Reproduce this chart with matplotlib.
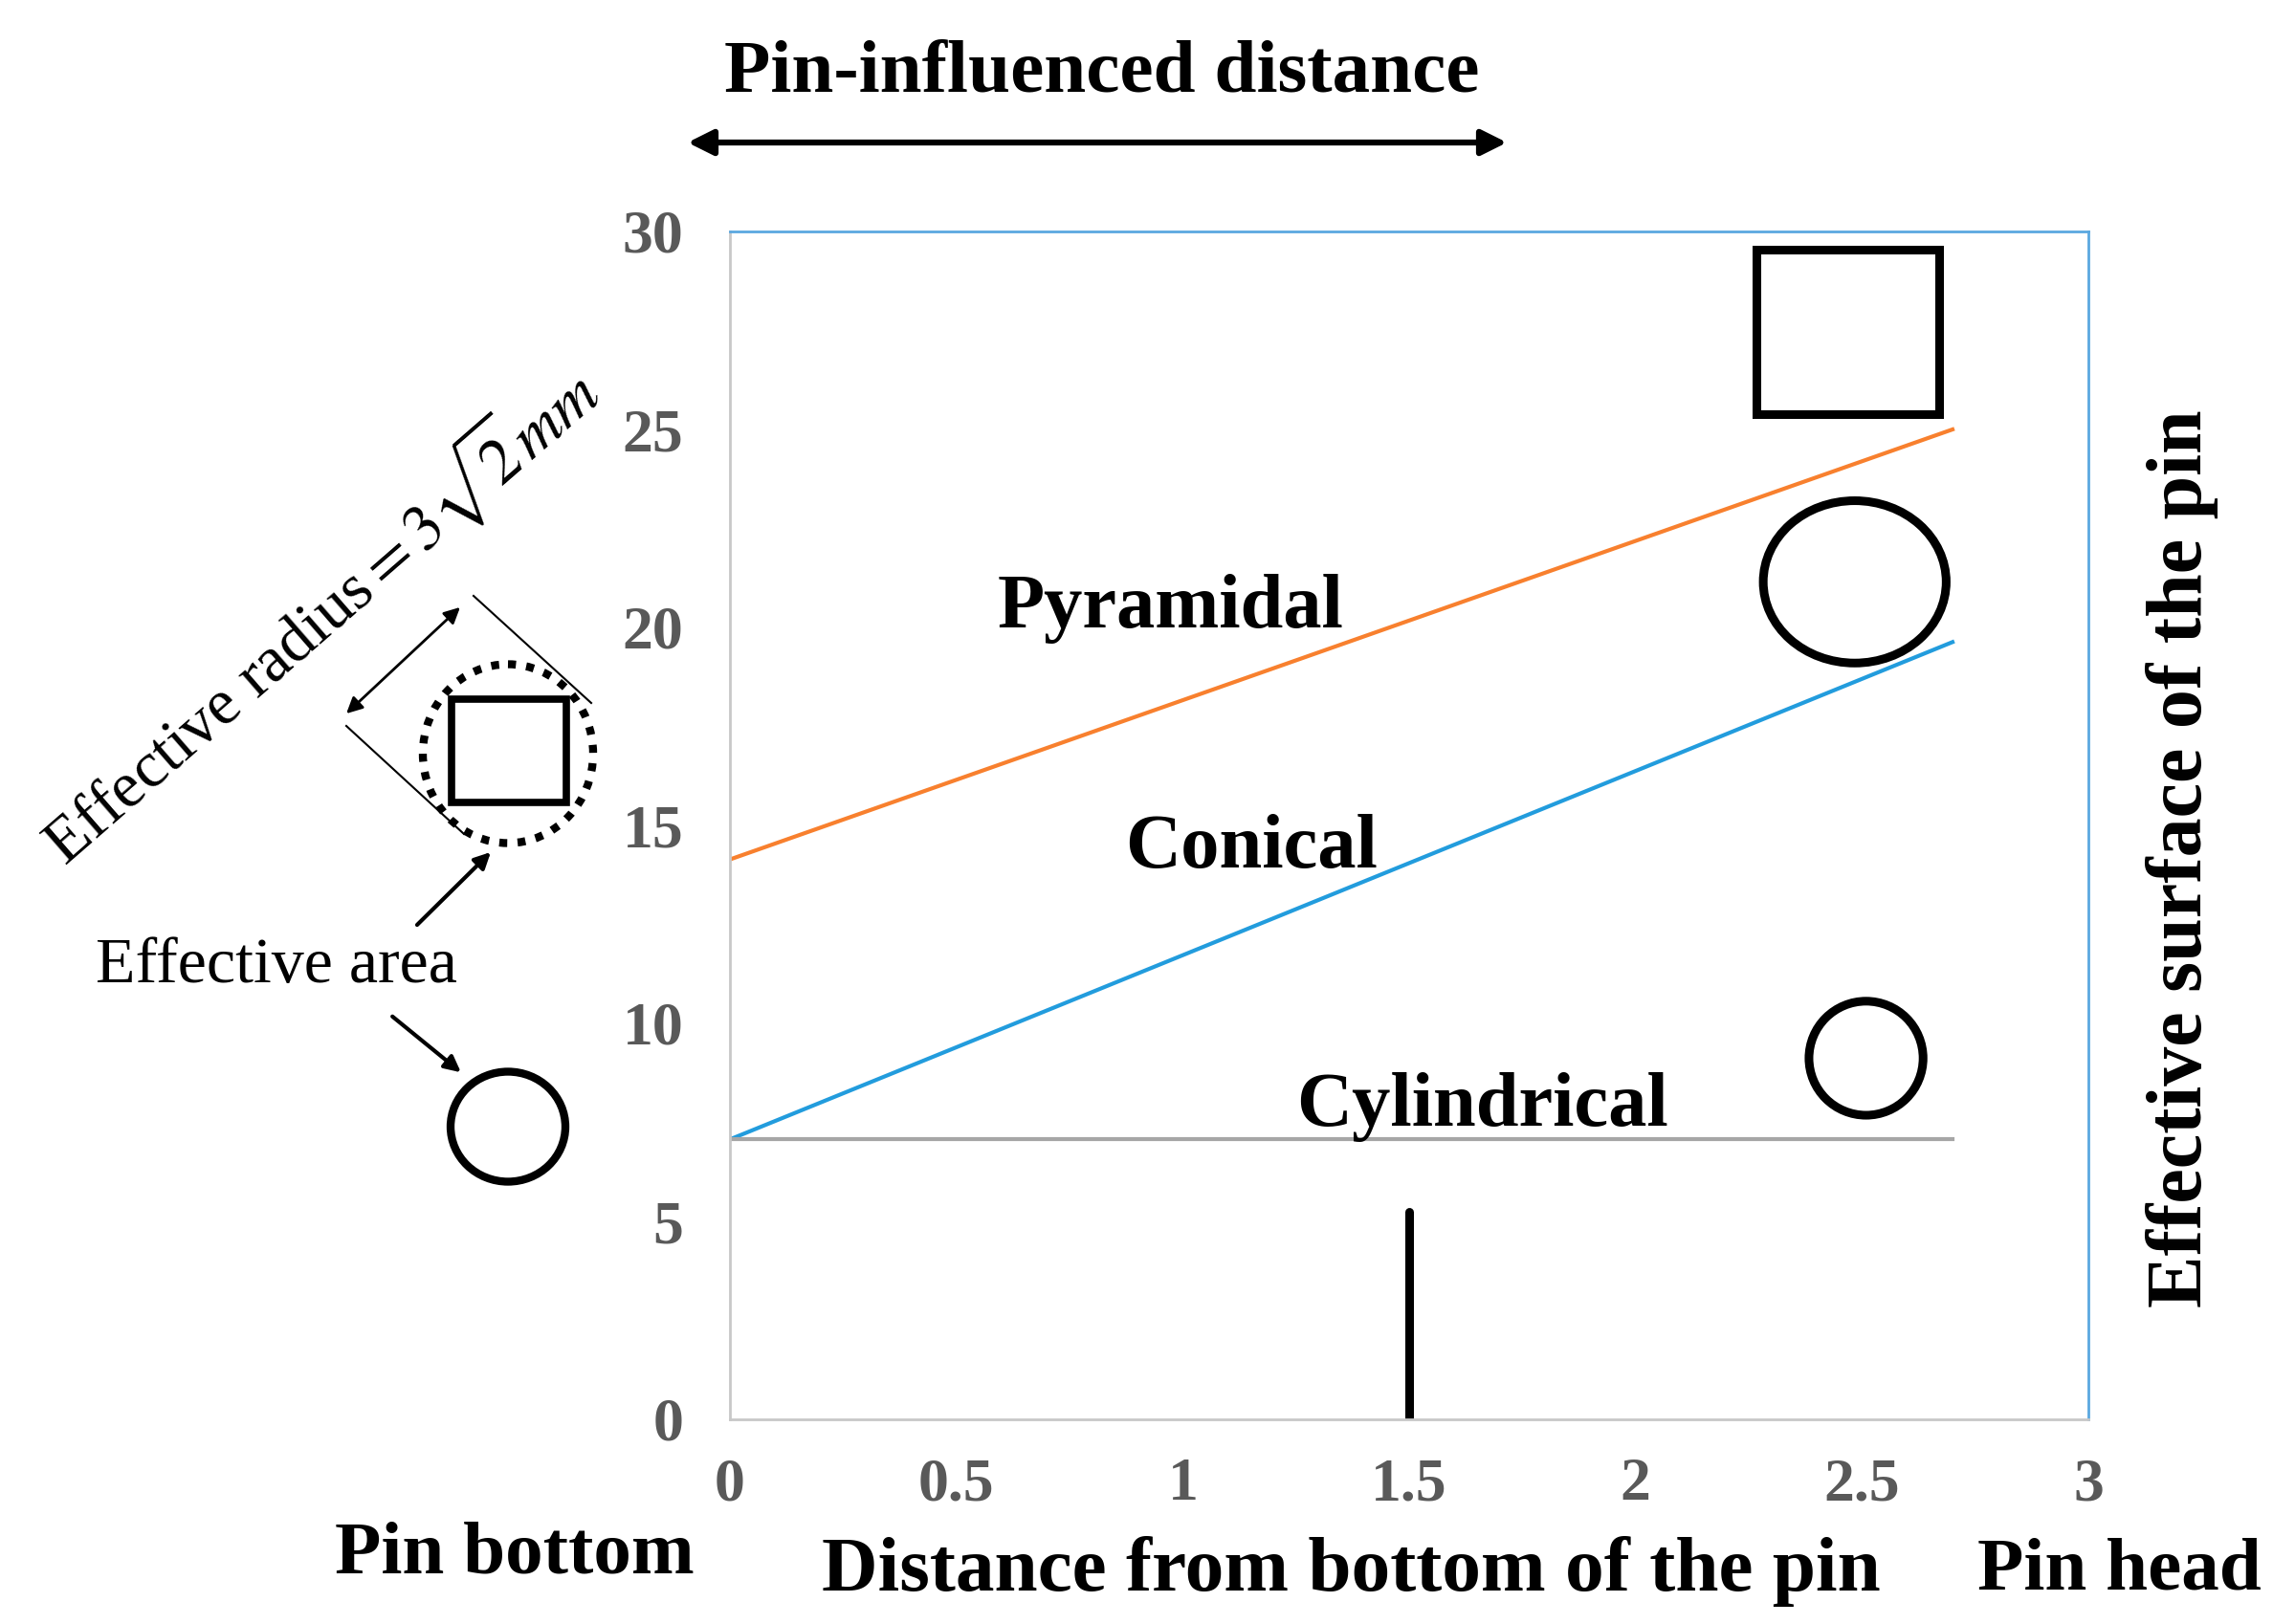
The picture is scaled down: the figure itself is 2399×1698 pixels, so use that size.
import matplotlib
matplotlib.use('Agg')
import matplotlib.pyplot as plt
from matplotlib.patches import Ellipse, Rectangle

# effective surface of the pin (mm^2) vs distance from pin bottom (mm)
x_dist = [0, 2.7]
pyramidal = [14.14, 25.0]
conical = [7.07, 19.63]
cylindrical = [7.07, 7.07]

x_ticks = [0, 0.5, 1, 1.5, 2, 2.5, 3]
x_tick_labels = ['0', '0.5', '1', '1.5', '2', '2.5', '3']
y_ticks = [0, 5, 10, 15, 20, 25, 30]

plt.rcParams['font.family'] = ['Liberation Serif', 'DejaVu Serif']
plt.rcParams['mathtext.fontset'] = 'stix'

W, H = 2399, 1698
fig = plt.figure(figsize=(W / 100, H / 100), dpi=100)

# main chart
ax = fig.add_axes([763 / W, 1 - 1484 / H, 1420 / W, 1242 / H])
ax.plot(x_dist, pyramidal, color='#F8802E', lw=3)
ax.plot(x_dist, conical, color='#229CDD', lw=3)
ax.plot(x_dist, cylindrical, color='#A6A6A6', lw=3)
ax.set_xlim(0, 3)
ax.set_ylim(0, 30)
ax.set_xticks(x_ticks)
ax.set_xticklabels(x_tick_labels)
ax.set_yticks(y_ticks)
ax.tick_params(length=0, labelsize=46, labelcolor='#595959')
ax.tick_params(axis='y', pad=35)
ax.tick_params(axis='x', pad=29)
for lab in ax.get_xticklabels() + ax.get_yticklabels():
    lab.set_fontweight('bold')
ax.spines['left'].set_color('#C8C8C8')
ax.spines['bottom'].set_color('#C8C8C8')
ax.spines['top'].set_color('#5BA8E0')
ax.spines['right'].set_color('#5BA8E0')
for s in ax.spines.values():
    s.set_linewidth(2)

ax.text(0.973, 20.48, 'Pyramidal', ha='center', va='center', fontsize=58, weight='bold')
ax.text(1.151, 14.42, 'Conical', ha='center', va='center', fontsize=58, weight='bold')
ax.text(1.662, 7.88, 'Cylindrical', ha='center', va='center', fontsize=58, weight='bold')

# cross sections drawn inside the plot
ax.add_patch(Rectangle((2.266, 25.38), 0.404, 4.17, fill=False, lw=6.5, ec='black'))
ax.add_patch(Ellipse((2.484, 21.15), 0.404, 4.1, fill=False, lw=6.5, ec='black'))
ax.add_patch(Ellipse((2.509, 9.12), 0.252, 2.88, fill=False, lw=6.5, ec='black'))
ax.plot([1.5, 1.5], [0, 5.25], color='black', lw=6.5, solid_capstyle='round')

# overlay in pixel coordinates for the sketch around the chart
ov = fig.add_axes([0, 0, 1, 1])
ov.set_xlim(0, W)
ov.set_ylim(H, 0)
ov.axis('off')
ov.patch.set_visible(False)

ov.text(1152, 77, 'Pin-influenced distance', ha='center', va='center', fontsize=57, weight='bold')
ov.annotate('', xy=(716, 149), xytext=(1578, 149),
            arrowprops=dict(arrowstyle='<|-|>', lw=4.5, color='black', mutation_scale=40))

ov.add_patch(Ellipse((531, 1178), 120, 115, fill=False, lw=6, ec='black'))
ov.add_patch(Ellipse((531, 788), 178, 187, fill=False, lw=6, ec='black', ls=(0, (1, 1.3))))
ov.add_patch(Rectangle((471.5, 730.5), 120, 108, fill=False, lw=5.5, ec='black'))
ov.plot([495, 618], [623, 735], color='black', lw=1.5)
ov.plot([362, 485], [759, 872], color='black', lw=1.5)
ov.annotate('', xy=(483, 633), xytext=(360, 748),
            arrowprops=dict(arrowstyle='<|-|>', lw=2, color='black', mutation_scale=25))
ov.text(332, 642, r'Effective radius$=3\sqrt{2}mm$', ha='center', va='center',
        fontsize=49, rotation=41, rotation_mode='anchor')

ov.text(289, 1010, 'Effective area', ha='center', va='center', fontsize=49)
ov.annotate('', xy=(515, 889), xytext=(434, 969),
            arrowprops=dict(arrowstyle='-|>', lw=3, color='black', mutation_scale=25))
ov.annotate('', xy=(484, 1123), xytext=(408, 1061),
            arrowprops=dict(arrowstyle='-|>', lw=3, color='black', mutation_scale=25))

ov.text(2281, 898, 'Effective surface of the pin', ha='center', va='center',
        fontsize=59, weight='bold', rotation=90)
ov.text(538, 1626, 'Pin bottom', ha='center', va='center', fontsize=57, weight='bold')
ov.text(1412, 1643, 'Distance from bottom of the pin', ha='center', va='center',
        fontsize=58.5, weight='bold')
ov.text(2215, 1643, 'Pin head', ha='center', va='center', fontsize=57, weight='bold')

fig.savefig('out.png', dpi=100)
